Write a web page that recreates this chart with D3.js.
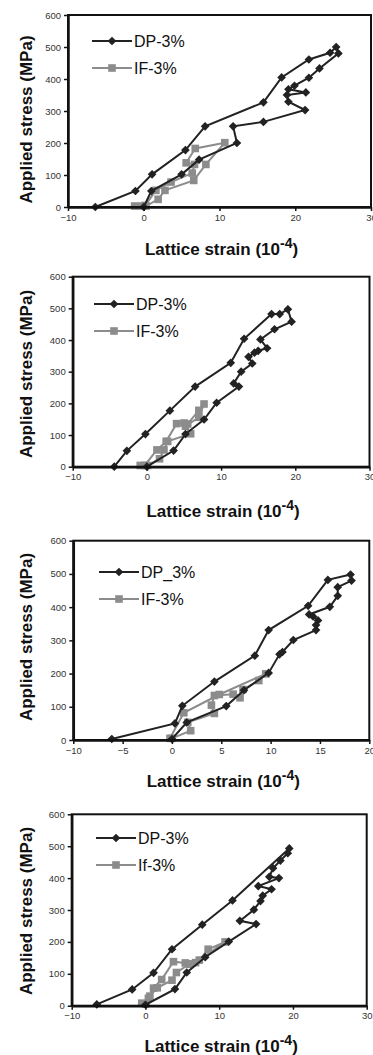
<!DOCTYPE html>
<html>
<head>
<meta charset="utf-8">
<script src="https://cdn.jsdelivr.net/npm/d3@7"></script>
<style>
body { margin: 0; background: #fff; }
svg { display: block; font-family: "Liberation Sans", Arial, sans-serif; }
</style>
</head>
<body>
<div id="chart"></div>
<script>
// lattice strain (1e-4) vs applied stress (MPa), one pair of series per panel
var dp1 = [[0,0],[1.0,50],[5.0,102],[7.3,148],[12.3,200],[11.8,252],[15.8,266],[21.3,303],[19.1,329],[18.9,350],[21.4,358],[19.1,368],[19.9,379],[21.8,404],[23.2,433],[25.7,480],[25.4,500],[24.6,482],[21.8,461],[18.2,405],[15.8,327],[8.1,252],[5.5,178],[1.1,102],[-1.1,50],[-6.4,0]];
var if1 = [[-1.2,3],[-0.3,3],[0.3,3],[1.9,24],[2.8,52],[6.6,83],[8.2,133],[10.7,201],[6.8,183],[5.6,138],[6.7,133],[6.4,106],[3.6,78],[1.6,52],[0.2,5]];

var dp2 = [[0,0],[3.6,51],[5.2,103],[7.7,149],[9.4,202],[12.4,253],[11.7,263],[12.7,300],[14.2,326],[13.7,347],[14.5,360],[15.0,366],[16.2,374],[15.3,402],[17.2,434],[19.5,458],[19.0,497],[17.9,482],[16.8,482],[13.1,404],[11.3,328],[6.5,253],[3.1,177],[-0.2,103],[-2.7,50],[-4.4,0]];
var if2 = [[-0.9,4],[0.1,4],[1.7,25],[2.3,53],[2.8,80],[5.9,104],[5.2,128],[7.0,156],[7.7,198],[7.0,178],[5.5,135],[5.0,138],[4.0,136],[2.6,80],[1.35,53],[-0.3,4]];

var dp3 = [[0,3],[1.5,53],[5.5,102],[7.3,150],[9.8,202],[10.9,258],[11.2,265],[12.3,301],[14.6,331],[14.6,346],[14.8,360],[14.3,372],[13.9,378],[16.0,401],[16.8,434],[16.8,460],[18.2,480],[18.1,498],[15.8,482],[13.8,404],[9.8,331],[8.4,254],[4.3,176],[1.05,103],[0.3,50],[-6.1,3]];
var if3 = [[0,5],[1.9,28],[1.6,53],[4.3,80],[4.0,105],[4.3,134],[6.2,138],[6.9,127],[7.2,152],[8.8,179],[9.5,199],[4.8,137],[1.2,82],[-0.2,5]];

var dp4 = [[0,3],[4.0,52],[5.6,104],[8.1,152],[11.3,201],[15.0,256],[12.8,266],[14.7,301],[15.6,328],[15.9,345],[17.1,365],[15.3,375],[18.1,400],[16.8,404],[17.3,431],[18.3,455],[19.3,478],[19.5,493],[11.8,330],[7.7,254],[3.6,177],[1.1,103],[-1.8,51],[-6.6,4]];
var if4 = [[-0.5,8],[0.4,23],[1.1,55],[2.2,82],[3.8,138],[5.4,134],[6.0,130],[7.3,143],[8.5,177],[10.8,200],[6.8,135],[6.0,131],[4.2,104],[3.6,80],[1.6,56],[0.6,30],[0,5]];

var legendDP = ["DP-3%", "DP-3%", "DP_3%", "DP-3%"];
var legendIF = ["IF-3%", "IF-3%", "IF-3%", "If-3%"];

var xTicksWide = [-10, 0, 10, 20, 30];
var xTicksNarrow = [-10, -5, 0, 5, 10, 15, 20];
var yTicks = [0, 100, 200, 300, 400, 500, 600];

var dpColor = "#222", ifColor = "#8c8c8c";

// frame positions of the four panels
var panels = [
  {dp: dp1, ifs: if1, xmax: 30, xt: xTicksWide, left: 68, right: 371, top: 15, bottom: 207, lx: 92, ly: 41, xtY: 255, ytY: 119.5},
  {dp: dp2, ifs: if2, xmax: 30, xt: xTicksWide, left: 72.7, right: 369.5, top: 276.7, bottom: 466.7, lx: 94, ly: 304, xtY: 517, ytY: 374},
  {dp: dp3, ifs: if3, xmax: 20, xt: xTicksNarrow, left: 73.3, right: 369.3, top: 540.7, bottom: 740, lx: 99, ly: 572, xtY: 787, ytY: 637},
  {dp: dp4, ifs: if4, xmax: 30, xt: xTicksWide, left: 71.7, right: 366.7, top: 814.3, bottom: 1005.7, lx: 96, ly: 838, xtY: 1052, ytY: 911}
];

var svg = d3.select("#chart").append("svg")
    .attr("width", 373)
    .attr("height", 1055);

function diamond(g, x, y) {
  g.append("path")
    .attr("d", d3.symbol(d3.symbolDiamond2, 48)())
    .attr("transform", "translate(" + x + "," + y + ")")
    .attr("fill", dpColor);
}
function square(g, x, y) {
  g.append("rect")
    .attr("x", x - 3.8).attr("y", y - 3.8)
    .attr("width", 7.6).attr("height", 7.6)
    .attr("fill", ifColor);
}

panels.forEach(function(p, i) {
  var x = d3.scaleLinear().domain([-10, p.xmax]).range([p.left, p.right]);
  var y = d3.scaleLinear().domain([0, 600]).range([p.bottom, p.top]);
  var g = svg.append("g");

  var line = d3.line().x(function(d){ return x(d[0]); }).y(function(d){ return y(d[1]); });

  // series
  g.append("path").datum(p.ifs).attr("d", line)
    .attr("fill", "none").attr("stroke", ifColor).attr("stroke-width", 2);
  p.ifs.forEach(function(d){ square(g, x(d[0]), y(d[1])); });

  g.append("path").datum(p.dp).attr("d", line)
    .attr("fill", "none").attr("stroke", dpColor).attr("stroke-width", 2);
  p.dp.forEach(function(d){ diamond(g, x(d[0]), y(d[1])); });

  // frame
  g.append("rect")
    .attr("x", p.left).attr("y", p.top)
    .attr("width", p.right - p.left).attr("height", p.bottom - p.top)
    .attr("fill", "none").attr("stroke", "#111").attr("stroke-width", 2);

  var xAxis = g.append("g").attr("transform", "translate(0," + p.bottom + ")")
    .call(d3.axisBottom(x).tickValues(p.xt).tickSize(4).tickPadding(3).tickSizeOuter(0));
  var yAxis = g.append("g").attr("transform", "translate(" + p.left + ",0)")
    .call(d3.axisLeft(y).tickValues(yTicks).tickSize(4).tickPadding(3).tickSizeOuter(0));
  [xAxis, yAxis].forEach(function(a){
    a.select(".domain").attr("stroke", "#111").attr("stroke-width", 2.5);
    a.selectAll(".tick line").attr("stroke", "#111").attr("stroke-width", 1.5);
    a.selectAll("text").attr("fill", "#333").style("font-size", "9.5px")
      .style("font-family", "'Liberation Sans', Arial, sans-serif");
  });

  // legend
  var l1 = p.ly, l2 = p.ly + 27;
  g.append("line").attr("x1", p.lx).attr("x2", p.lx + 40).attr("y1", l1).attr("y2", l1)
    .attr("stroke", dpColor).attr("stroke-width", 2);
  diamond(g, p.lx + 20, l1);
  g.append("text").attr("x", p.lx + 42).attr("y", l1 + 6)
    .style("font-size", "16px").attr("fill", "#111").text(legendDP[i]);
  g.append("line").attr("x1", p.lx).attr("x2", p.lx + 40).attr("y1", l2).attr("y2", l2)
    .attr("stroke", ifColor).attr("stroke-width", 2);
  square(g, p.lx + 20, l2);
  g.append("text").attr("x", p.lx + 42).attr("y", l2 + 6)
    .style("font-size", "16px").attr("fill", "#111").text(legendIF[i]);

  // axis titles
  var xt = g.append("text")
    .attr("x", (p.left + p.right) / 2 + 2).attr("y", p.xtY)
    .attr("text-anchor", "middle")
    .style("font-size", "17px").style("font-weight", "bold").attr("fill", "#111");
  xt.append("tspan").text("Lattice strain (10");
  xt.append("tspan").attr("dy", -7).style("font-size", "14px").text("-4");
  xt.append("tspan").attr("dy", 7).text(")");

  g.append("text")
    .attr("transform", "translate(32," + p.ytY + ") rotate(-90)")
    .attr("text-anchor", "middle")
    .style("font-size", "17px").style("font-weight", "bold").attr("fill", "#111")
    .text("Applied stress (MPa)");
});
</script>
</body>
</html>
